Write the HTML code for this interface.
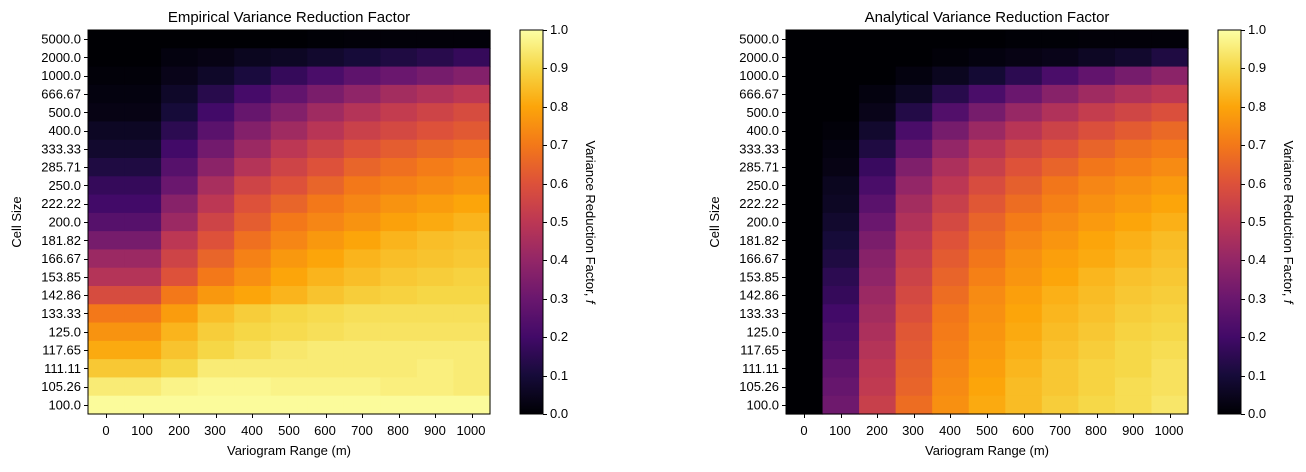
<!DOCTYPE html>
<html><head><meta charset="utf-8"><style>
body{margin:0;background:#fff;width:1306px;height:467px;overflow:hidden}
svg{font-family:"Liberation Sans","DejaVu Sans",sans-serif;font-size:13px;fill:#000}
</style></head><body>
<svg id="s" width="1306" height="467" viewBox="0 0 1306 467" xmlns="http://www.w3.org/2000/svg">
<defs>
<linearGradient id="cb" x1="0" y1="1" x2="0" y2="0">
<stop offset="0" stop-color="#000004"/><stop offset="0.1" stop-color="#160b39"/><stop offset="0.2" stop-color="#420a68"/><stop offset="0.3" stop-color="#6a176e"/><stop offset="0.4" stop-color="#932667"/><stop offset="0.5" stop-color="#bc3754"/><stop offset="0.6" stop-color="#dd513a"/><stop offset="0.7" stop-color="#f37819"/><stop offset="0.8" stop-color="#fca50a"/><stop offset="0.9" stop-color="#f6d746"/><stop offset="1" stop-color="#fcffa4"/>
</linearGradient>
</defs>
<g id="h1"></g><g id="h2"></g>
<rect x="88" y="30" width="402" height="384" fill="none" stroke="#000" stroke-width="1"/>
<rect x="786" y="30" width="402" height="384" fill="none" stroke="#000" stroke-width="1"/>
<rect x="520" y="30" width="23" height="384" fill="url(#cb)" stroke="#000" stroke-width="1"/>
<rect x="1218" y="30" width="23" height="384" fill="url(#cb)" stroke="#000" stroke-width="1"/>
<g id="ticks" stroke="#000" stroke-width="1"></g>
<text x="289" y="22" text-anchor="middle" font-size="15">Empirical Variance Reduction Factor</text>
<text x="987" y="22" text-anchor="middle" font-size="15">Analytical Variance Reduction Factor</text>
<text x="289" y="455" text-anchor="middle">Variogram Range (m)</text>
<text x="987" y="455" text-anchor="middle">Variogram Range (m)</text>
<text transform="translate(21,222) rotate(-90)" text-anchor="middle">Cell Size</text>
<text transform="translate(719,222) rotate(-90)" text-anchor="middle">Cell Size</text>
<text transform="translate(586,222) rotate(90)" text-anchor="middle">Variance Reduction Factor, <tspan font-style="italic">f</tspan></text>
<text transform="translate(1284,222) rotate(90)" text-anchor="middle">Variance Reduction Factor, <tspan font-style="italic">f</tspan></text>
<g text-anchor="end">
<text x="81" y="43.6">5000.0</text><text x="81" y="61.9">2000.0</text><text x="81" y="80.2">1000.0</text><text x="81" y="98.5">666.67</text><text x="81" y="116.8">500.0</text><text x="81" y="135.1">400.0</text><text x="81" y="153.4">333.33</text><text x="81" y="171.6">285.71</text><text x="81" y="189.9">250.0</text><text x="81" y="208.2">222.22</text><text x="81" y="226.5">200.0</text><text x="81" y="244.8">181.82</text><text x="81" y="263.1">166.67</text><text x="81" y="281.4">153.85</text><text x="81" y="299.7">142.86</text><text x="81" y="318">133.33</text><text x="81" y="336.3">125.0</text><text x="81" y="354.6">117.65</text><text x="81" y="372.9">111.11</text><text x="81" y="391.1">105.26</text><text x="81" y="409.4">100.0</text>
</g>
<g text-anchor="end" transform="translate(698,0)">
<text x="81" y="43.6">5000.0</text><text x="81" y="61.9">2000.0</text><text x="81" y="80.2">1000.0</text><text x="81" y="98.5">666.67</text><text x="81" y="116.8">500.0</text><text x="81" y="135.1">400.0</text><text x="81" y="153.4">333.33</text><text x="81" y="171.6">285.71</text><text x="81" y="189.9">250.0</text><text x="81" y="208.2">222.22</text><text x="81" y="226.5">200.0</text><text x="81" y="244.8">181.82</text><text x="81" y="263.1">166.67</text><text x="81" y="281.4">153.85</text><text x="81" y="299.7">142.86</text><text x="81" y="318">133.33</text><text x="81" y="336.3">125.0</text><text x="81" y="354.6">117.65</text><text x="81" y="372.9">111.11</text><text x="81" y="391.1">105.26</text><text x="81" y="409.4">100.0</text>
</g>
<g text-anchor="middle">
<text x="106" y="435">0</text><text x="142" y="435">100</text><text x="179" y="435">200</text><text x="215" y="435">300</text><text x="252" y="435">400</text><text x="289" y="435">500</text><text x="325" y="435">600</text><text x="362" y="435">700</text><text x="398" y="435">800</text><text x="435" y="435">900</text><text x="471" y="435">1000</text>
</g>
<g text-anchor="middle" transform="translate(698,0)">
<text x="106" y="435">0</text><text x="142" y="435">100</text><text x="179" y="435">200</text><text x="215" y="435">300</text><text x="252" y="435">400</text><text x="289" y="435">500</text><text x="325" y="435">600</text><text x="362" y="435">700</text><text x="398" y="435">800</text><text x="435" y="435">900</text><text x="471" y="435">1000</text>
</g>
<g>
<text x="550" y="418">0.0</text><text x="550" y="380">0.1</text><text x="550" y="341">0.2</text><text x="550" y="303">0.3</text><text x="550" y="264">0.4</text><text x="550" y="226">0.5</text><text x="550" y="188">0.6</text><text x="550" y="149">0.7</text><text x="550" y="111">0.8</text><text x="550" y="72">0.9</text><text x="550" y="34">1.0</text>
</g>
<g transform="translate(698,0)">
<text x="550" y="418">0.0</text><text x="550" y="380">0.1</text><text x="550" y="341">0.2</text><text x="550" y="303">0.3</text><text x="550" y="264">0.4</text><text x="550" y="226">0.5</text><text x="550" y="188">0.6</text><text x="550" y="149">0.7</text><text x="550" y="111">0.8</text><text x="550" y="72">0.9</text><text x="550" y="34">1.0</text>
</g>
</svg>
<script>
var C=[[0,0,4],[22,11,57],[66,10,104],[106,23,110],[147,38,103],[188,55,84],[221,81,58],[243,120,25],[252,165,10],[246,215,70],[252,255,164]];
function col(v){v=Math.max(0,Math.min(1,v))*10;var i=Math.min(9,Math.floor(v)),t=v-i,a=C[i],b=C[i+1];
return 'rgb('+[0,1,2].map(function(k){return Math.round(a[k]+(b[k]-a[k])*t)}).join(',')+')';}
var E=[[0,0,0,0,0,0,0.005,0.01,0.01,0.01,0.01],
[0,0,0.02,0.03,0.05,0.06,0.08,0.1,0.12,0.14,0.17],
[0.01,0.01,0.04,0.07,0.11,0.17,0.22,0.27,0.3,0.33,0.36],
[0.02,0.02,0.07,0.14,0.21,0.28,0.34,0.39,0.44,0.47,0.5],
[0.03,0.03,0.1,0.2,0.29,0.36,0.43,0.48,0.52,0.55,0.58],
[0.06,0.06,0.15,0.26,0.36,0.43,0.49,0.54,0.57,0.6,0.62],
[0.08,0.08,0.2,0.32,0.42,0.5,0.55,0.6,0.63,0.66,0.68],
[0.12,0.12,0.25,0.38,0.48,0.55,0.6,0.65,0.68,0.71,0.73],
[0.17,0.17,0.3,0.45,0.55,0.6,0.65,0.7,0.72,0.74,0.76],
[0.2,0.2,0.37,0.5,0.6,0.65,0.7,0.73,0.76,0.78,0.8],
[0.25,0.25,0.42,0.55,0.63,0.7,0.73,0.76,0.79,0.81,0.83],
[0.33,0.33,0.5,0.6,0.68,0.73,0.77,0.8,0.83,0.85,0.86],
[0.42,0.42,0.55,0.65,0.72,0.77,0.8,0.83,0.85,0.86,0.87],
[0.48,0.48,0.6,0.7,0.75,0.8,0.83,0.85,0.87,0.88,0.89],
[0.58,0.58,0.7,0.77,0.8,0.83,0.86,0.88,0.89,0.9,0.9],
[0.7,0.7,0.78,0.85,0.88,0.9,0.91,0.92,0.92,0.92,0.92],
[0.76,0.76,0.83,0.88,0.9,0.91,0.92,0.93,0.93,0.93,0.93],
[0.81,0.81,0.86,0.9,0.92,0.94,0.95,0.95,0.95,0.95,0.95],
[0.87,0.87,0.9,0.95,0.95,0.95,0.95,0.95,0.95,0.96,0.95],
[0.95,0.95,0.97,0.98,0.98,0.97,0.97,0.97,0.96,0.96,0.95],
[0.99,0.99,0.99,0.99,0.99,0.99,0.99,0.99,0.99,0.99,0.99]];
var A=[[0,0,0,0,0,0,0.005,0.005,0.01,0.01,0.01],
[0,0,0,0,0.01,0.02,0.03,0.04,0.06,0.08,0.12],
[0,0,0,0.02,0.05,0.09,0.15,0.22,0.28,0.33,0.38],
[0,0,0.02,0.06,0.14,0.22,0.3,0.37,0.43,0.47,0.5],
[0,0,0.04,0.13,0.24,0.33,0.41,0.47,0.52,0.55,0.58],
[0,0.01,0.08,0.22,0.33,0.42,0.49,0.54,0.58,0.61,0.64],
[0,0.02,0.12,0.28,0.4,0.49,0.55,0.59,0.63,0.66,0.68],
[0,0.03,0.18,0.35,0.46,0.53,0.59,0.63,0.67,0.69,0.71],
[0,0.05,0.22,0.4,0.5,0.57,0.62,0.67,0.7,0.72,0.74],
[0,0.06,0.26,0.44,0.53,0.6,0.65,0.69,0.72,0.74,0.76],
[0,0.08,0.3,0.47,0.56,0.63,0.68,0.71,0.74,0.76,0.78],
[0,0.1,0.34,0.5,0.59,0.65,0.7,0.73,0.76,0.78,0.8],
[0,0.12,0.37,0.52,0.61,0.67,0.72,0.75,0.77,0.79,0.81],
[0,0.15,0.39,0.54,0.63,0.69,0.73,0.76,0.79,0.81,0.82],
[0,0.17,0.42,0.56,0.65,0.71,0.75,0.78,0.8,0.82,0.83],
[0,0.2,0.44,0.58,0.67,0.72,0.76,0.79,0.81,0.83,0.84],
[0,0.22,0.46,0.6,0.68,0.73,0.77,0.8,0.82,0.84,0.85],
[0,0.24,0.48,0.61,0.69,0.74,0.78,0.81,0.83,0.85,0.86],
[0,0.27,0.5,0.62,0.7,0.75,0.79,0.82,0.84,0.85,0.87],
[0,0.29,0.51,0.63,0.71,0.76,0.8,0.82,0.84,0.86,0.87],
[0,0.31,0.53,0.65,0.72,0.77,0.8,0.83,0.85,0.86,0.88]];
A=A.map(function(r){return r.map(function(v){return v>0.5?v+(v-0.5)*0.15:v;});});
var NS='http://www.w3.org/2000/svg';
var ROWS=21,CW=402/11,RH=384/ROWS;
function draw(id,D,x0){var g=document.getElementById(id);
 for(var r=0;r<ROWS;r++){var row=D[r];
  for(var c=0;c<11;c++){var e=document.createElementNS(NS,'rect');
   e.setAttribute('x',x0+c*CW);e.setAttribute('y',30+r*RH);e.setAttribute('width',CW+0.6);e.setAttribute('height',RH+0.6);
   e.setAttribute('fill',col(row[c]));g.appendChild(e);}}}
draw('h1',E,88);draw('h2',A,786);
var t=document.getElementById('ticks');
function ln(x1,y1,x2,y2){var e=document.createElementNS(NS,'line');e.setAttribute('x1',x1);e.setAttribute('y1',y1);e.setAttribute('x2',x2);e.setAttribute('y2',y2);t.appendChild(e);}
[0,698].forEach(function(o){
 for(var r=0;r<21;r++){var y=Math.round(30+(r+0.5)*RH)+0.5;ln(o+84,y,o+88,y);}
 for(var c=0;c<11;c++){var x=Math.round(o+88+(c+0.5)*CW)+0.5;ln(x,414,x,418);}
 for(var k=0;k<=10;k++){var y=Math.round(414-k*38.4)+0.5;ln(o+543,y,o+547,y);}
});
</script>
</body></html>
